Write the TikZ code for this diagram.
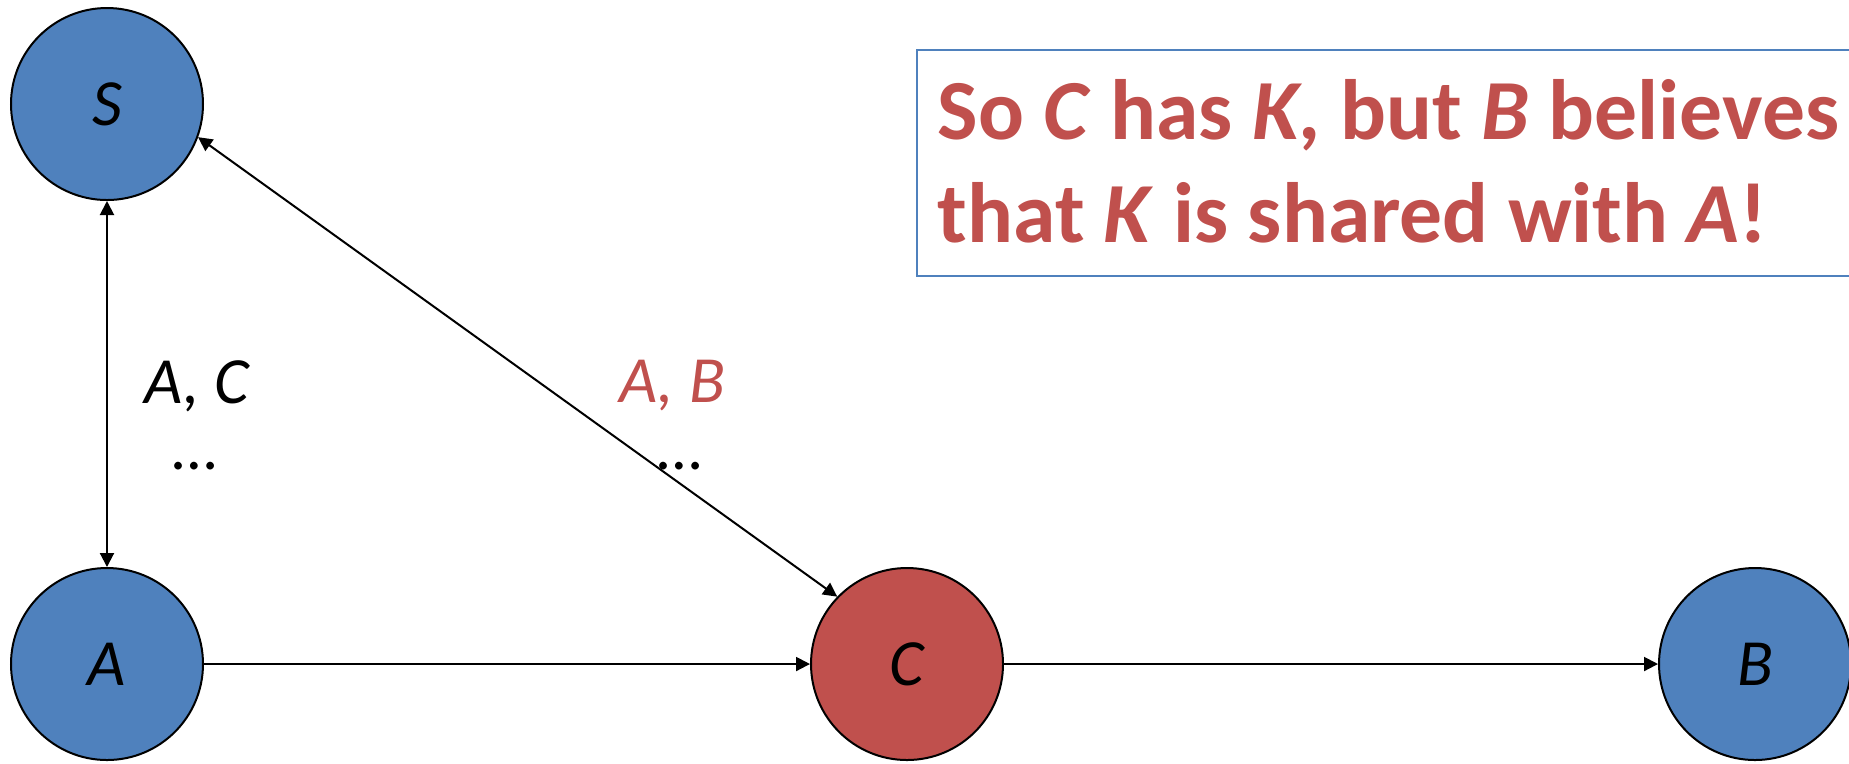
\documentclass[tikz,border=0pt]{standalone}
\usepackage{fontspec}
\setmainfont{Carlito}
\usetikzlibrary{arrows.meta}
\definecolor{agentblue}{HTML}{4F81BD}
\definecolor{intruderred}{HTML}{C0504D}
\begin{document}
\begin{tikzpicture}[x=0.25pt,y=-0.25pt,font=\fontsize{16}{19}\selectfont,
  agent/.style={circle,draw=black,line width=0.5pt,fill=agentblue,minimum size=48pt,inner sep=0pt,font=\fontsize{16.5}{19}\selectfont\itshape},
  intruder/.style={agent,fill=intruderred},
  msg/.style={line width=0.5pt,-{Triangle[length=3.5pt,width=3.5pt]}},
  msgboth/.style={line width=0.5pt,{Triangle[length=3.5pt,width=3.5pt]}-{Triangle[length=3.5pt,width=3.5pt]}},
  claim/.style={anchor=base west,inner sep=0pt,text=intruderred,font=\fontsize{21.4}{25}\selectfont\bfseries}]
\useasboundingbox (0,0) rectangle (1849,763);
% the principals
\node[agent] (S) at (107,104) {S};
\node[agent] (A) at (107,664) {A};
\node[intruder] (C) at (907,664) {C};
\node[agent] (B) at (1755,664) {B};
% the messages
\draw[msgboth] (S) -- (A);
\draw[msgboth] (S.-20) -- (C.136);
\draw[msg] (A) -- (C);
\draw[msg] (C) -- (B);
\node[font=\fontsize{16.5}{19}\selectfont\itshape] (labac) at (197,386) {A, C};
\node (dotsac) at (195,466) {…};
\node[text=intruderred,font=\fontsize{16.5}{19}\selectfont\itshape] (labab) at (672,386) {A, B};
\node (dotsab) at (680,466) {…};
% the conclusion
\draw[agentblue,line width=0.4pt] (917,50) rectangle (1870,276);
\node[claim] (claima) at (937,139) {So \textit{C} has \textit{K}, but \textit{B} believes};
\node[claim] (claimb) at (937,242) {that \textit{K} is shared with \textit{A}!};
\end{tikzpicture}
\end{document}
